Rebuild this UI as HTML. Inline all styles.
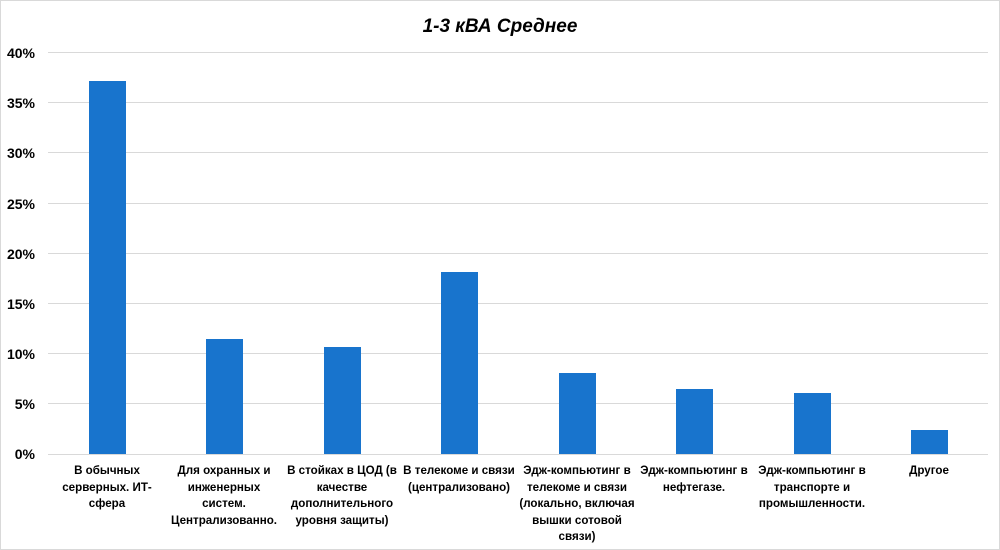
<!DOCTYPE html>
<html><head><meta charset="utf-8"><style>
html,body{margin:0;padding:0;background:#fff}
svg{display:block;font-family:"Liberation Sans","DejaVu Sans",sans-serif}
</style></head><body>
<svg width="1000" height="550" viewBox="0 0 1000 550">
<rect x="0.5" y="0.5" width="999" height="549" fill="#fff" stroke="#d9d9d9"/>
<text x="500" y="32" text-anchor="middle" font-size="19" font-weight="bold" font-style="italic" fill="#000">1-3 кВА Среднее</text>
<g stroke="#d9d9d9" stroke-width="1">
<line x1="48" x2="988" y1="52.5" y2="52.5"/>
<line x1="48" x2="988" y1="102.5" y2="102.5"/>
<line x1="48" x2="988" y1="152.5" y2="152.5"/>
<line x1="48" x2="988" y1="203.5" y2="203.5"/>
<line x1="48" x2="988" y1="253.5" y2="253.5"/>
<line x1="48" x2="988" y1="303.5" y2="303.5"/>
<line x1="48" x2="988" y1="353.5" y2="353.5"/>
<line x1="48" x2="988" y1="403.5" y2="403.5"/>
<line x1="48" x2="988" y1="454.5" y2="454.5"/>
</g>
<g font-size="14" font-weight="bold" text-anchor="end" fill="#000">
<text x="35" y="58">40%</text><text x="35" y="108">35%</text><text x="35" y="158">30%</text>
<text x="35" y="209">25%</text><text x="35" y="259">20%</text><text x="35" y="309">15%</text>
<text x="35" y="359">10%</text><text x="35" y="409">5%</text><text x="35" y="459">0%</text>
</g>
<g fill="#1874cd">
<rect x="89" y="81" width="37" height="373"/>
<rect x="206" y="339" width="37" height="115"/>
<rect x="324" y="347" width="37" height="107"/>
<rect x="441" y="272" width="37" height="182"/>
<rect x="559" y="373" width="37" height="81"/>
<rect x="676" y="389" width="37" height="65"/>
<rect x="794" y="393" width="37" height="61"/>
<rect x="911" y="430" width="37" height="24"/>
</g>
<g font-size="11.6" font-weight="bold" text-anchor="middle" fill="#000">
<text x="107" y="474">В обычных</text><text x="107" y="491">серверных. ИТ-</text><text x="107" y="507">сфера</text>
<text x="224" y="474">Для охранных и</text><text x="224" y="491">инженерных</text><text x="224" y="507">систем.</text><text x="224" y="524">Централизованно.</text>
<text x="342" y="474">В стойках в ЦОД (в</text><text x="342" y="491">качестве</text><text x="342" y="507">дополнительного</text><text x="342" y="524">уровня защиты)</text>
<text x="459" y="474">В телекоме и связи</text><text x="459" y="491">(централизовано)</text>
<text x="577" y="474">Эдж-компьютинг в</text><text x="577" y="491">телекоме и связи</text><text x="577" y="507">(локально, включая</text><text x="577" y="524">вышки сотовой</text><text x="577" y="540">связи)</text>
<text x="694" y="474">Эдж-компьютинг в</text><text x="694" y="491">нефтегазе.</text>
<text x="812" y="474">Эдж-компьютинг в</text><text x="812" y="491">транспорте и</text><text x="812" y="507">промышленности.</text>
<text x="929" y="474">Другое</text>
</g>
</svg>
</body></html>
